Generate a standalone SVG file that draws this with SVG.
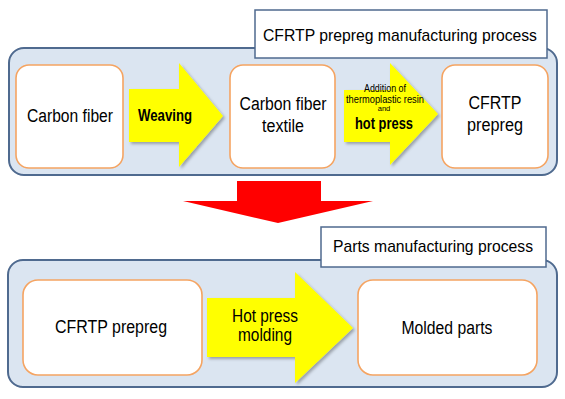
<svg xmlns="http://www.w3.org/2000/svg" width="565" height="399" viewBox="0 0 565 399">
<style>
text{font-family:"Liberation Sans",Arial,sans-serif;fill:#000;text-anchor:middle}
.cont{fill:#dbe5f1;stroke:#4f6a8f;stroke-width:2}
.title{fill:#fff;stroke:#4f6a8f;stroke-width:1.5}
.box{fill:#fff;stroke:#f5a462;stroke-width:1.6}
.yarrow{fill:#ffff00;filter:url(#sh)}
.t18{font-size:18px}
.b{font-weight:bold}
</style>
<defs>
<filter id="sh" x="-10%" y="-10%" width="130%" height="130%">
<feDropShadow dx="2" dy="2" stdDeviation="1.5" flood-color="#000" flood-opacity="0.3"/>
</filter>
</defs>
<g id="top-process">
<rect class="cont" x="9" y="48" width="548" height="127" rx="15"/>
</g>
<g id="top-title">
<rect class="title" x="255" y="10" width="292" height="48"/>
<text font-size="17" x="400" y="41" textLength="274" lengthAdjust="spacingAndGlyphs">CFRTP prepreg manufacturing process</text>
</g>
<g id="bottom-process">
<rect class="cont" x="8" y="260" width="549" height="127" rx="15"/>
</g>
<g id="bottom-title">
<rect class="title" x="321" y="227" width="225" height="40"/>
<text font-size="17" x="433" y="252" textLength="200" lengthAdjust="spacingAndGlyphs">Parts manufacturing process</text>
</g>
<g id="connectors">
<g id="arrow-weaving">
<polygon class="yarrow" points="129,89 179,89 179,63 223,116 179,167 179,142 129,142"/>
<text class="b" font-size="17" x="165" y="121" textLength="54" lengthAdjust="spacingAndGlyphs">Weaving</text>
</g>
<g id="arrow-hotpress">
<polygon class="yarrow" points="344,90 390,90 390,63 438,114 390,165 390,142 344,142"/>
<text font-size="10.5" x="385" y="92" textLength="42" lengthAdjust="spacingAndGlyphs">Addition of</text>
<text font-size="10.5" x="385" y="103" textLength="78" lengthAdjust="spacingAndGlyphs">thermoplastic resin</text>
<text font-size="7.5" x="384" y="111">and</text>
<text class="b" font-size="17" x="384" y="129" textLength="58" lengthAdjust="spacingAndGlyphs">hot press</text>
</g>
<g id="arrow-transition">
<polygon fill="#ff0000" points="237,181 321,181 321,201 373,201 278,223 183,201 237,201"/>
</g>
<g id="arrow-molding">
<polygon class="yarrow" points="207,298 295,298 295,272 353,328 295,383 295,357 207,357"/>
<text class="t18" x="265" y="322" textLength="66" lengthAdjust="spacingAndGlyphs">Hot press</text>
<text class="t18" x="265" y="341" textLength="54" lengthAdjust="spacingAndGlyphs">molding</text>
</g>
</g>
<g id="node-carbon-fiber">
<rect class="box" x="16" y="65" width="107" height="103" rx="13"/>
<text class="t18" x="70" y="122" textLength="86" lengthAdjust="spacingAndGlyphs">Carbon fiber</text>
</g>
<g id="node-textile">
<rect class="box" x="230" y="65" width="105" height="103" rx="13"/>
<text class="t18" x="283" y="110" textLength="87" lengthAdjust="spacingAndGlyphs">Carbon fiber</text>
<text class="t18" x="283" y="132" textLength="42" lengthAdjust="spacingAndGlyphs">textile</text>
</g>
<g id="node-prepreg-top">
<rect class="box" x="442" y="65" width="106" height="103" rx="13"/>
<text class="t18" x="495" y="109" textLength="53" lengthAdjust="spacingAndGlyphs">CFRTP</text>
<text class="t18" x="495" y="131" textLength="56" lengthAdjust="spacingAndGlyphs">prepreg</text>
</g>
<g id="node-prepreg-bottom">
<rect class="box" x="23" y="280" width="179" height="95" rx="15"/>
<text class="t18" x="111" y="333" textLength="112" lengthAdjust="spacingAndGlyphs">CFRTP prepreg</text>
</g>
<g id="node-molded-parts">
<rect class="box" x="358" y="280" width="179" height="95" rx="15"/>
<text class="t18" x="447" y="334" textLength="91" lengthAdjust="spacingAndGlyphs">Molded parts</text>
</g>
</svg>
